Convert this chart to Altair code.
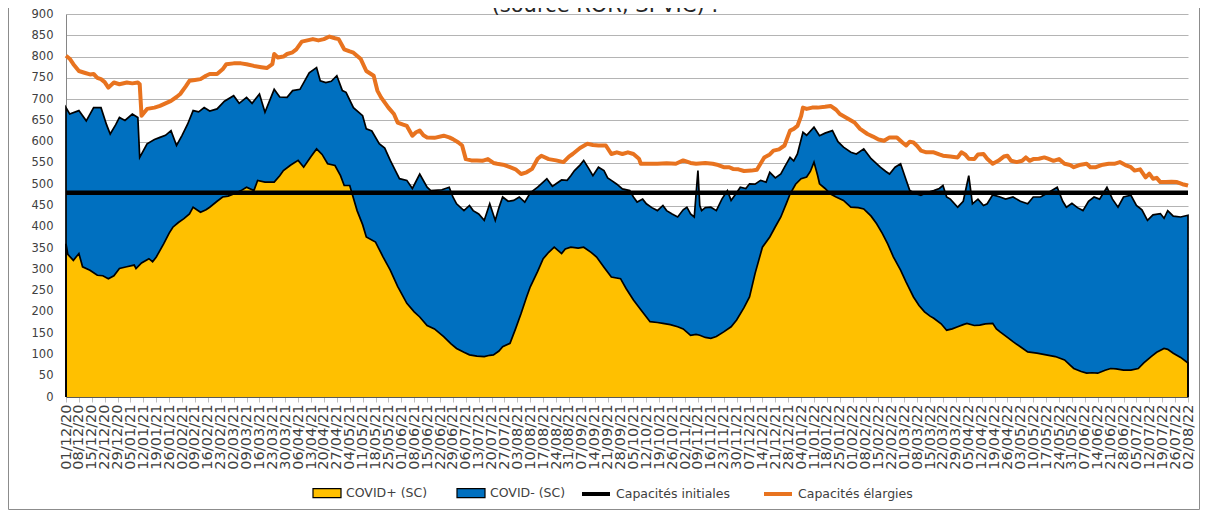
import altair as alt
import pandas as pd

START = "2020-12-01"
TITLE = "(source ROR, SI-VIC) :"
area_names = ["COVID+ (SC)", "COVID- (SC)"]
area_colors = ["#FFC000", "#0070C0"]
line_names = ["Capacités initiales", "Capacités élargies"]
line_colors = ["#000000", "#E8731F"]

# Total ICU patients (COVID+ + COVID-), day offset from 01/12/20
tot_days = [0, 2, 7, 11, 15, 19, 22, 24, 27, 29, 32, 36, 39, 40, 44, 48, 51, 54, 57, 60, 63, 66, 69, 72, 75, 78,
            82, 86, 91, 94, 98, 101, 105, 108, 113, 116, 120, 123, 127, 132, 136, 138, 141, 144, 147, 150, 152,
            156, 161, 163, 166, 170, 173, 176, 179, 181, 185, 188, 192, 196, 198, 204, 208, 210, 212, 216, 219,
            221, 224, 227, 230, 233, 235, 237, 240, 243, 246, 249, 252, 256, 259, 261, 264, 266, 269, 272, 274,
            276, 279, 281, 284, 286, 289, 292, 294, 296, 299, 302, 306, 308, 310, 313, 315, 318, 321, 324, 326,
            329, 332, 335, 337, 339, 341, 343, 344, 345, 347, 350, 353, 356, 359, 361, 364, 366, 369, 371, 374,
            377, 380, 382, 385, 388, 390, 393, 395, 397, 400, 402, 406, 409, 412, 416, 419, 422, 426, 429, 433,
            437, 442, 445, 447, 450, 453, 456, 458, 461, 464, 467, 471, 474, 476, 478, 480, 484, 487, 490, 492,
            495, 498, 500, 503, 507, 510, 514, 518, 522, 525, 529, 533, 538, 541, 543, 546, 549, 552, 555, 558,
            561, 565, 568, 571, 574, 578, 581, 584, 587, 590, 594, 596, 598, 601, 605, 609]
tot_vals = [680, 665, 673, 649, 680, 680, 640, 618, 640, 657, 650, 665, 657, 563, 595, 605, 610, 615, 626, 591, 615,
            641, 673, 670, 680, 672, 677, 695, 708, 690, 704, 690, 712, 669, 723, 705, 704, 720, 723, 762, 774, 743,
            739, 742, 755, 720, 716, 680, 661, 630, 625, 595, 585, 556, 530, 513, 509, 490, 524, 493, 485, 487, 493,
            470, 454, 438, 450, 438, 430, 415, 454, 415, 445, 470, 460, 462, 470, 458, 480, 493, 505, 513, 495, 501,
            510, 509, 520, 532, 545, 556, 535, 520, 540, 532, 515, 509, 500, 489, 485, 470, 458, 465, 454, 445, 438,
            450, 438, 430, 423, 440, 446, 430, 423, 532, 450, 438, 445, 446, 438, 465, 485, 462, 480, 493, 490, 501,
            500, 509, 505, 528, 515, 524, 540, 563, 555, 571, 622, 615, 634, 614, 620, 626, 600, 587, 575, 571, 583,
            560, 540, 530, 524, 540, 548, 510, 485, 478, 474, 480, 485, 490, 497, 470, 465, 446, 460, 520, 454, 465,
            450, 454, 475, 470, 465, 470, 460, 454, 470, 470, 480, 493, 460, 446, 455, 445, 438, 460, 470, 465, 493,
            465, 446, 470, 474, 450, 440, 415, 428, 431, 420, 438, 425, 423, 427]

# COVID+ ICU patients
pos_days = [0, 1, 4, 7, 9, 13, 17, 20, 23, 26, 29, 33, 37, 38, 41, 45, 47, 49, 53, 56, 58, 61, 64, 67, 69, 73, 76,
            78, 82, 85, 88, 91, 95, 98, 102, 104, 108, 113, 116, 118, 122, 126, 129, 133, 136, 139, 142, 146, 149,
            151, 154, 158, 161, 163, 168, 172, 176, 180, 185, 189, 192, 196, 200, 205, 209, 212, 216, 219, 223, 227,
            230, 232, 235, 237, 241, 244, 247, 250, 252, 256, 259, 262, 265, 269, 271, 274, 278, 281, 285, 288, 292,
            296, 301, 304, 308, 312, 317, 321, 324, 328, 332, 335, 339, 342, 344, 347, 350, 353, 357, 361, 364, 368,
            371, 374, 378, 382, 385, 388, 391, 393, 396, 399, 402, 404, 406, 408, 409, 412, 415, 418, 422, 426, 430,
            433, 437, 440, 443, 446, 449, 453, 456, 460, 463, 466, 469, 471, 475, 478, 481, 484, 487, 489, 493, 496,
            499, 503, 505, 507, 511, 514, 518, 522, 527, 532, 537, 542, 545, 547, 551, 554, 557, 560, 564, 567, 570,
            574, 578, 582, 585, 589, 592, 596, 598, 601, 605, 609]
pos_vals = [360, 335, 321, 337, 306, 298, 286, 285, 278, 285, 302, 306, 310, 302, 315, 325, 318, 329, 360, 385, 399,
            410, 419, 430, 446, 434, 440, 446, 460, 470, 472, 477, 485, 493, 485, 509, 505, 505, 520, 532, 545, 556,
            540, 565, 583, 570, 548, 544, 520, 497, 497, 438, 405, 376, 364, 330, 298, 260, 220, 200, 188, 168, 160,
            142, 125, 114, 105, 99, 96, 95, 98, 99, 108, 118, 126, 160, 196, 235, 259, 295, 325, 340, 352, 337, 348,
            352, 350, 352, 340, 329, 305, 282, 278, 255, 228, 205, 177, 175, 173, 170, 165, 160, 145, 147, 145, 140,
            138, 142, 153, 165, 181, 210, 235, 290, 352, 376, 400, 423, 455, 477, 500, 513, 517, 530, 552, 520, 501,
            490, 477, 470, 462, 446, 445, 442, 425, 407, 385, 360, 330, 298, 270, 235, 215, 200, 190, 185, 172, 157,
            160, 165, 170, 173, 168, 169, 172, 173, 160, 153, 140, 130, 118, 106, 103, 99, 95, 87, 75, 67, 60, 56, 57,
            56, 63, 67, 66, 63, 63, 67, 80, 95, 105, 114, 112, 103, 93, 80]

# Extended capacity
ext_days = [0, 2, 4, 7, 10, 13, 15, 17, 19, 21, 23, 26, 29, 33, 36, 39, 40, 41, 44, 48, 51, 54, 57, 60, 62, 65, 67,
            70, 73, 76, 78, 82, 85, 87, 91, 95, 98, 102, 106, 109, 112, 113, 115, 118, 120, 123, 125, 128, 131, 134,
            137, 140, 143, 146, 148, 151, 154, 156, 160, 163, 167, 169, 171, 175, 178, 180, 183, 185, 188, 190, 192,
            194, 196, 200, 205, 208, 210, 213, 215, 217, 220, 223, 226, 229, 232, 234, 238, 241, 244, 247, 250, 253,
            256, 258, 262, 266, 270, 273, 275, 279, 283, 286, 289, 293, 296, 299, 302, 305, 308, 311, 312, 316, 321,
            326, 331, 335, 339, 342, 347, 351, 354, 357, 360, 362, 365, 368, 372, 375, 379, 382, 384, 387, 390, 393,
            395, 397, 399, 400, 402, 405, 408, 412, 415, 418, 420, 424, 428, 431, 435, 438, 441, 444, 447, 451, 454,
            456, 458, 460, 462, 464, 467, 471, 474, 476, 480, 484, 486, 488, 490, 493, 495, 498, 500, 503, 506, 509,
            511, 513, 516, 519, 521, 523, 525, 528, 531, 533, 536, 539, 542, 545, 547, 550, 554, 556, 559, 562, 566,
            569, 572, 575, 578, 580, 583, 586, 588, 590, 592, 594, 597, 600, 603, 606, 609]
ext_vals = [802, 795, 782, 766, 762, 758, 759, 750, 747, 740, 727, 739, 735, 739, 737, 739, 735, 661, 677, 680, 684,
            690, 696, 705, 712, 730, 743, 745, 747, 755, 759, 759, 770, 782, 784, 784, 782, 778, 775, 773, 782, 806,
            798, 800, 806, 810, 817, 835, 838, 841, 838, 841, 847, 843, 841, 817, 812, 809, 794, 766, 755, 720, 704,
            680, 665, 645, 640, 637, 614, 622, 626, 615, 610, 609, 614, 610, 606, 598, 591, 559, 556, 556, 555, 559,
            550, 548, 545, 540, 535, 524, 528, 536, 560, 567, 559, 556, 552, 565, 571, 585, 595, 592, 591, 591, 571,
            575, 571, 575, 571, 560, 548, 548, 548, 549, 548, 556, 550, 548, 550, 548, 545, 540, 540, 536, 535, 531,
            532, 534, 563, 570, 579, 582, 591, 626, 630, 637, 660, 680, 677, 680, 680, 682, 684, 675, 665, 655, 645,
            630, 618, 612, 605, 602, 610, 610, 598, 591, 600, 598, 590, 579, 575, 575, 570, 567, 565, 563, 575, 570,
            560, 559, 570, 571, 560, 548, 555, 565, 567, 555, 552, 555, 563, 555, 559, 560, 563, 560, 555, 559, 548,
            545, 540, 545, 548, 540, 540, 545, 548, 548, 552, 545, 540, 532, 535, 516, 525, 513, 515, 505, 505, 506,
            505, 500, 497]

# Initial capacity
init_days = [0, 609]
init_vals = [480, 480]

tick_days = list(range(0, 610, 7))
tick_labels = [(pd.Timestamp(START) + pd.Timedelta(days=d)).strftime("%d/%m/%y") for d in tick_days]

FONT = "DejaVu Sans"
TXT = "#404040"


def frame(days, vals):
    return pd.DataFrame({"d": days, "v": vals, "o": range(len(days))})


def outline(days, vals):
    dd = [days[0]] + list(days) + [days[-1]]
    vv = [0] + list(vals) + [0]
    return frame(dd, vv)


label_expr = "[" + ",".join("'" + s + "'" for s in tick_labels) + "][round(datum.value / 7)]"

X = alt.X("d:Q", scale=alt.Scale(domain=[0, 609], nice=False, zero=False),
          axis=alt.Axis(values=tick_days, labelExpr=label_expr, title=None, labelAngle=-90,
                        labelAlign="right", labelBaseline="middle", labelOverlap=False,
                        labelFont=FONT, labelFontSize=14.5, labelColor=TXT, labelPadding=2,
                        labelBound=False, labelFlush=False,
                        tickSize=5, tickColor="#bfbfbf", domainColor="#595959", grid=False))
Y = alt.Y("v:Q", scale=alt.Scale(domain=[0, 900], nice=False),
          axis=alt.Axis(values=list(range(0, 901, 50)), title=None, labelFont=FONT, labelFontSize=11.5,
                        labelColor=TXT, labelPadding=13, ticks=False, tickSize=0, domainColor="#868686",
                        grid=True, gridColor="#b4b4b4", gridWidth=1))

area_tot = alt.Chart(frame(tot_days, tot_vals)).mark_area(color="#0070C0", opacity=1).encode(x=X, y=Y)
area_pos = alt.Chart(frame(pos_days, pos_vals)).mark_area(color="#FFC000", opacity=1).encode(x=X, y=Y)
line_tot = alt.Chart(outline(tot_days, tot_vals)).mark_line(color="black", strokeWidth=1.7).encode(
    x=X, y=Y, order="o:Q")
line_pos = alt.Chart(outline(pos_days, pos_vals)).mark_line(color="black", strokeWidth=1.7).encode(
    x=X, y=Y, order="o:Q")
line_init = alt.Chart(frame(init_days, init_vals)).mark_line(color="#000000", strokeWidth=4.5).encode(x=X, y=Y)
line_ext = alt.Chart(frame(ext_days, ext_vals)).mark_line(color="#E8731F", strokeWidth=4,
                                                          strokeJoin="round").encode(x=X, y=Y)

leg_common = dict(title=None, orient="none", direction="horizontal", columns=2, columnPadding=26,
                  symbolSize=784, labelFont=FONT, labelFontSize=12.5, labelColor=TXT, labelOffset=4,
                  symbolOpacity=1)
leg_fill = alt.Chart(pd.DataFrame({"s": area_names})).mark_point(filled=True, shape="square").encode(
    x=alt.value(-3000), y=alt.value(-3000),
    fill=alt.Fill("s:N", scale=alt.Scale(domain=area_names, range=area_colors),
                  legend=alt.Legend(legendX=246, legendY=464, symbolType="M-1,-0.32H1V0.32H-1Z",
                                    symbolStrokeColor="#000000", symbolStrokeWidth=1.2, **leg_common)))
leg_stroke = alt.Chart(pd.DataFrame({"s2": line_names})).mark_point(filled=False).encode(
    x=alt.value(-3000), y=alt.value(-3000),
    stroke=alt.Stroke("s2:N", scale=alt.Scale(domain=line_names, range=line_colors),
                      legend=alt.Legend(legendX=514, legendY=464, symbolType="M-1,0H1",
                                        symbolStrokeWidth=4, symbolFillColor="transparent", **leg_common)))

title_layer = alt.Chart(pd.DataFrame({"t": [TITLE]})).mark_text(
    font=FONT, fontSize=21, color="#262626", align="center", baseline="alphabetic").encode(
    text="t:N", x=alt.value(539), y=alt.value(-2))

border = alt.Chart(pd.DataFrame({"k": [0]})).mark_rect(fillOpacity=0, stroke="#8c8c8c", strokeWidth=1).encode(
    x=alt.value(-57.5), x2=alt.value(1133.5), y=alt.value(-40), y2=alt.value(495.5))

chart = alt.layer(area_tot, area_pos, line_tot, line_pos, line_init, line_ext, leg_fill, leg_stroke,
                  title_layer, border
                  ).resolve_legend(fill="independent", stroke="independent").properties(
    width=1122, height=383,
    autosize=alt.AutoSizeParams(type="none"),
    padding={"left": 58, "top": 6, "right": 12, "bottom": 113},
    background="white",
).configure_view(stroke=None)

chart.save("out.html", embed_options={"renderer": "svg", "actions": False})
